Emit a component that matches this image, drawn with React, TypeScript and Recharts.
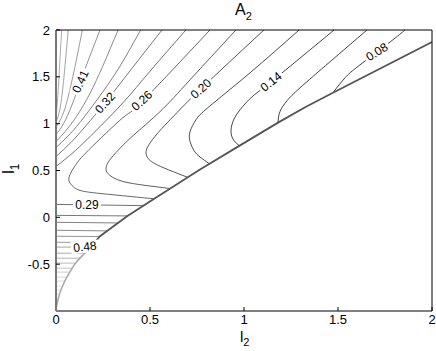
import { ComposedChart, Line, XAxis, YAxis } from 'recharts';

type Pt = [number, number];

const FONT = '"Liberation Sans", Arial, Helvetica, sans-serif';

const xTicks = [0, 0.5, 1, 1.5, 2];
const yTicks = [-0.5, 0, 0.5, 1, 1.5, 2];

// contours that reach the top edge (level -> points)
const c008: Pt[] = [[1.856, 2.0], [1.777, 1.872], [1.617, 1.628], [1.537, 1.489], [1.473, 1.33]];
const c011: Pt[] = [[1.654, 2.0], [1.457, 1.66], [1.298, 1.383], [1.229, 1.245], [1.191, 1.128], [1.181, 1.011]];
const c014: Pt[] = [[1.479, 2.0], [1.144, 1.447], [1.043, 1.287], [0.979, 1.149], [0.941, 1.021], [0.931, 0.904], [0.947, 0.819], [0.975, 0.765]];
const c017: Pt[] = [[1.293, 2.0], [1.032, 1.543], [0.814, 1.181], [0.745, 1.043], [0.713, 0.915], [0.713, 0.809], [0.734, 0.713], [0.766, 0.645], [0.815, 0.572]];
const c020: Pt[] = [[1.106, 2.0], [0.771, 1.372], [0.633, 1.096], [0.543, 0.904], [0.495, 0.777], [0.479, 0.702], [0.495, 0.617], [0.569, 0.532], [0.7, 0.428]];
const c023: Pt[] = [[0.957, 2.0], [0.713, 1.468], [0.553, 1.128], [0.41, 0.872], [0.319, 0.691], [0.277, 0.585], [0.266, 0.511], [0.287, 0.447], [0.356, 0.383], [0.479, 0.34], [0.606, 0.308]];
const c026: Pt[] = [[0.819, 2.0], [0.457, 1.234], [0.356, 1.064], [0.176, 0.723], [0.106, 0.564], [0.069, 0.426], [0.085, 0.34], [0.128, 0.287], [0.234, 0.255], [0.394, 0.223], [0.521, 0.198]];
const c029: Pt[] = [[0, 0.543], [0.09, 0.69], [0.2, 0.9], [0.356, 1.223], [0.5, 1.56], [0.691, 2.0]];
const c032: Pt[] = [[0, 0.649], [0.08, 0.8], [0.16, 0.98], [0.261, 1.223], [0.4, 1.58], [0.564, 2.0]];
const c035: Pt[] = [[0, 0.745], [0.06, 0.86], [0.13, 1.02], [0.22, 1.26], [0.33, 1.58], [0.45, 2.0]];
const c038: Pt[] = [[0, 0.809], [0.05, 0.92], [0.11, 1.08], [0.18, 1.32], [0.25, 1.62], [0.33, 2.0]];
const c041: Pt[] = [[0, 0.883], [0.04, 1.0], [0.085, 1.2], [0.13, 1.45], [0.18, 1.72], [0.234, 2.0]];
const c044: Pt[] = [[0, 0.957], [0.03, 1.07], [0.06, 1.25], [0.1, 1.6], [0.14, 2.0]];
const c047: Pt[] = [[0, 1.011], [0.02, 1.15], [0.04, 1.45], [0.065, 2.0]];
const c050: Pt[] = [[0, 1.064], [0.01, 1.3], [0.02, 1.65], [0.03, 2.0]];

const upperLevels = [0.08, 0.11, 0.14, 0.17, 0.2, 0.23, 0.26, 0.29, 0.32, 0.35, 0.38, 0.41, 0.44, 0.47, 0.5];
const upperCurves = [c008, c011, c014, c017, c020, c023, c026, c029, c032, c035, c038, c041, c044, c047, c050];

// nearly flat contours in the lower-left pocket
const lowLevels = [0.29, 0.32, 0.35, 0.38, 0.41, 0.44, 0.47, 0.5, 0.53, 0.56, 0.59, 0.62, 0.65, 0.68, 0.71, 0.74, 0.77, 0.8, 0.83];
const lowLeftY = [0.138, 0.021, -0.053, -0.138, -0.202, -0.266, -0.318, -0.383, -0.436, -0.489, -0.543, -0.585, -0.638, -0.681, -0.734, -0.777, -0.819, -0.862, -0.904];
const lowRightX = [0.47, 0.38, 0.33, 0.275, 0.234, 0.205, 0.183, 0.155, 0.127, 0.105, 0.086, 0.073, 0.058, 0.047, 0.035, 0.027, 0.019, 0.013, 0.008];
const lowRightY = [0.125, 0.015, -0.06, -0.145, -0.205, -0.27, -0.318, -0.383, -0.436, -0.489, -0.543, -0.585, -0.638, -0.681, -0.734, -0.777, -0.819, -0.862, -0.904];

// edge of the valid region
const edgeUpper: Pt[] = [[0.165, -0.362], [0.234, -0.202], [0.378, 0.011], [0.516, 0.191], [0.766, 0.511], [0.968, 0.755], [1.181, 1.011], [1.33, 1.181], [1.473, 1.33], [2.0, 1.872]];
const edgeLower: Pt[] = [[0, -0.99], [0.005, -0.93], [0.013, -0.86], [0.024, -0.79], [0.038, -0.72], [0.055, -0.65], [0.075, -0.58], [0.1, -0.5], [0.13, -0.43], [0.165, -0.362]];

const labelText = ['0.41', '0.32', '0.26', '0.20', '0.14', '0.08', '0.29', '0.48'];
const labelX = [0.13, 0.261, 0.457, 0.771, 1.144, 1.707, 0.165, 0.154];
const labelY = [1.45, 1.223, 1.245, 1.372, 1.447, 1.765, 0.133, -0.315];
const LABEL_ANGLES = [-66, -48, -43, -42, -39, -32, 0, -6];

const rows = (pts: Pt[]) => pts.map(([x, y]) => ({ x, y }));

// gray colormap: low levels dark, high levels light
function levelStroke(level: number) {
  const g = Math.round(Math.min(215, Math.max(20, ((level - 0.08) / 0.6) * 215)));
  return `rgb(${g},${g},${g})`;
}

const labelRows = labelText.map((t, i) => ({ x: labelX[i], y: labelY[i], t }));

const renderLabel = (props: any) => {
  const { cx, cy, index, payload } = props;
  if (cx == null || cy == null) return <g key={`lbl-${index}`} />;
  return (
    <g key={`lbl-${index}`} transform={`translate(${cx},${cy}) rotate(${LABEL_ANGLES[index]})`}>
      <rect x={-14} y={-6} width={28} height={12} fill="#fff" />
      <text textAnchor="middle" dominantBaseline="central" fontSize={12} fontFamily={FONT} fill="#000">
        {payload.t}
      </text>
    </g>
  );
};

const tickStyle = { fill: '#000', fontSize: 13, fontFamily: FONT };

export default function App() {
  return (
    <div style={{ position: 'absolute', left: 0, top: 0, width: 436, height: 351, background: '#fff' }}>
      <ComposedChart width={436} height={351} margin={{ top: 0, right: 0, bottom: 0, left: 0 }}>
        <XAxis
          dataKey="x"
          type="number"
          domain={[0, 2]}
          ticks={xTicks}
          interval={0}
          allowDataOverflow
          height={40}
          tickSize={-4}
          tickMargin={8}
          axisLine={{ stroke: '#000' }}
          tickLine={{ stroke: '#000' }}
          tick={tickStyle}
        />
        <XAxis
          xAxisId="top"
          orientation="top"
          type="number"
          domain={[0, 2]}
          ticks={xTicks}
          interval={0}
          allowDataOverflow
          height={30}
          tickSize={-4}
          tick={false}
          axisLine={{ stroke: '#000' }}
          tickLine={{ stroke: '#000' }}
        />
        <YAxis
          type="number"
          domain={[-1, 2]}
          ticks={yTicks}
          interval={0}
          allowDataOverflow
          width={56}
          tickSize={-4}
          tickMargin={10}
          axisLine={{ stroke: '#777', strokeWidth: 2 }}
          tickLine={{ stroke: '#000' }}
          tick={tickStyle}
        />
        <YAxis
          yAxisId="right"
          orientation="right"
          type="number"
          domain={[-1, 2]}
          ticks={yTicks}
          interval={0}
          allowDataOverflow
          width={4}
          tickSize={-4}
          tick={false}
          axisLine={{ stroke: '#000' }}
          tickLine={{ stroke: '#000' }}
        />
        {upperCurves.map((pts, i) => (
          <Line
            key={`u-${i}`}
            data={rows(pts)}
            dataKey="y"
            type="natural"
            stroke={levelStroke(upperLevels[i])}
            strokeWidth={0.8}
            dot={false}
            activeDot={false}
            isAnimationActive={false}
            legendType="none"
          />
        ))}
        {lowLevels.map((lv, i) => (
          <Line
            key={`l-${i}`}
            data={rows([[0, lowLeftY[i]], [lowRightX[i], lowRightY[i]]])}
            dataKey="y"
            type="linear"
            stroke={levelStroke(lv)}
            strokeWidth={0.8}
            dot={false}
            activeDot={false}
            isAnimationActive={false}
            legendType="none"
          />
        ))}
        <Line
          data={labelRows}
          dataKey="y"
          stroke="none"
          dot={renderLabel}
          activeDot={false}
          isAnimationActive={false}
          legendType="none"
        />
        <Line
          data={rows(edgeLower)}
          dataKey="y"
          type="natural"
          stroke="#a8a8a8"
          strokeWidth={1.5}
          dot={false}
          activeDot={false}
          isAnimationActive={false}
          legendType="none"
        />
        <Line
          data={rows(edgeUpper)}
          dataKey="y"
          type="linear"
          stroke="#555"
          strokeWidth={1.8}
          dot={false}
          activeDot={false}
          isAnimationActive={false}
          legendType="none"
        />
      </ComposedChart>
      <svg
        width={436}
        height={351}
        style={{ position: 'absolute', left: 0, top: 0, pointerEvents: 'none' }}
        fontFamily={FONT}
      >
        <text x={235} y={15} fontSize={16} fill="#000">
          A<tspan dy={5} fontSize={11}>2</tspan>
        </text>
        <text x={240} y={342} fontSize={15} fill="#000">
          l<tspan dy={4} fontSize={11}>2</tspan>
        </text>
        <text transform="translate(14,174) rotate(-90)" fontSize={17} fill="#000">
          l<tspan dy={5} fontSize={12}>1</tspan>
        </text>
      </svg>
    </div>
  );
}
